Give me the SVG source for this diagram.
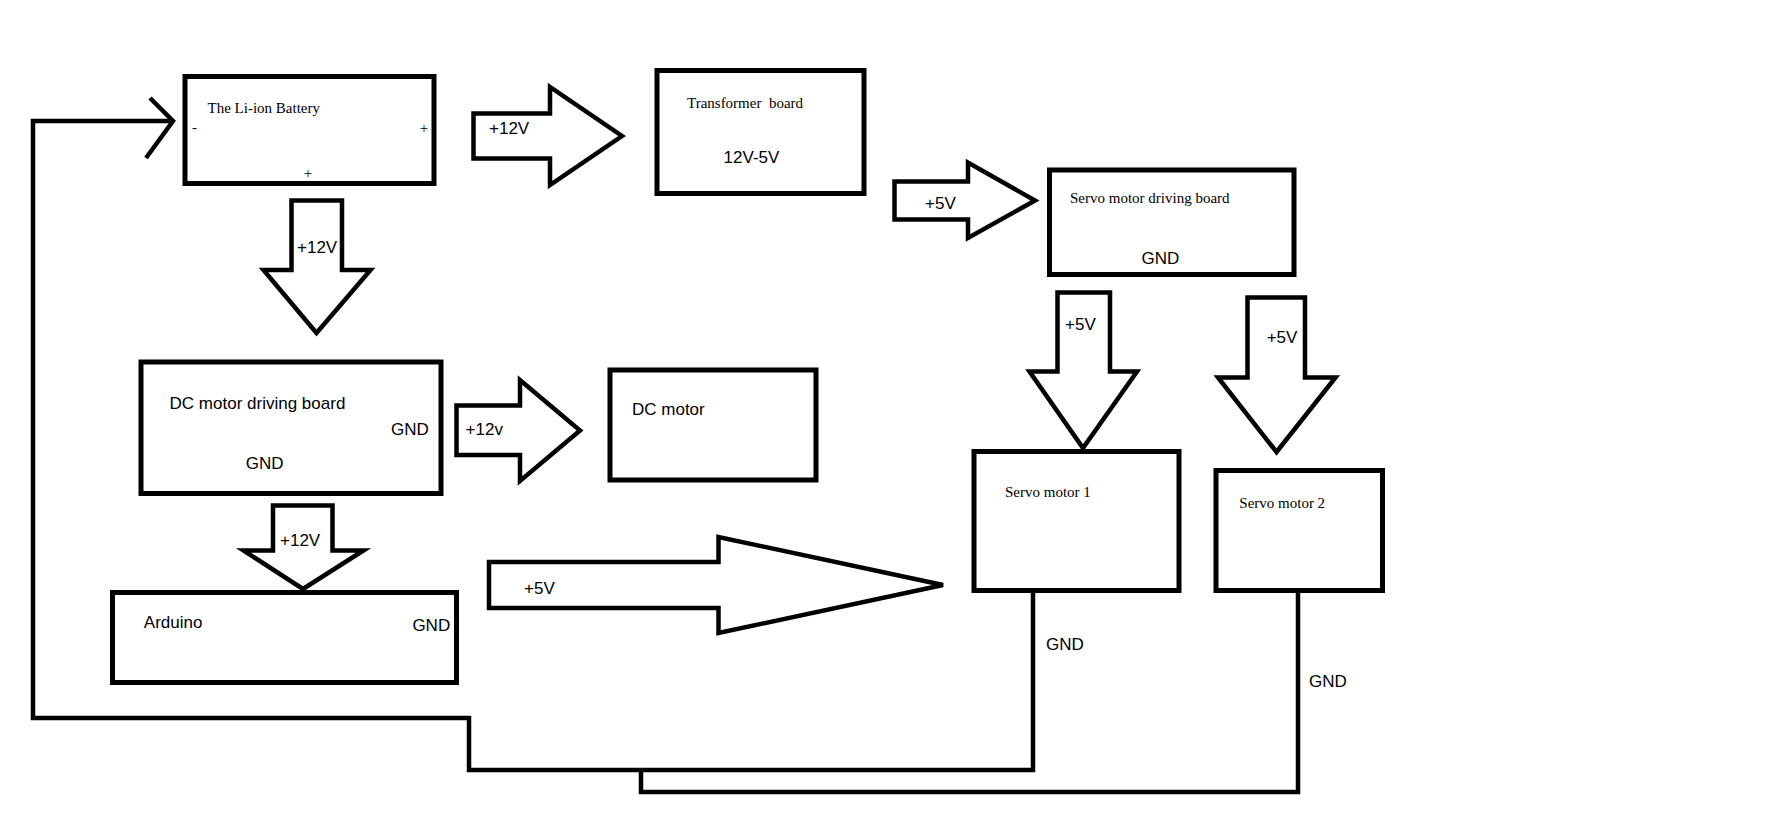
<svg xmlns="http://www.w3.org/2000/svg" width="1779" height="829" viewBox="0 0 1779 829">
<style>
.box{fill:none;stroke:#000;stroke-width:5}
.arr{fill:#fff;stroke:#000;stroke-width:4.5;stroke-linejoin:miter}
.wire{fill:none;stroke:#000;stroke-width:4.5;stroke-linejoin:miter}
.s{font-family:"Liberation Sans",Arial,sans-serif;font-size:17px;fill:#000}
.t{font-family:"Liberation Serif","Times New Roman",serif;font-size:15px;fill:#000}
</style>
<rect width="1779" height="829" fill="#fff"/>
<g id="connectors">
  <path class="wire" d="M1033,592 V770 H469 V718 H33 V121 H172"/>
  <path class="wire" d="M150,98 L173,121 L146,158"/>
  <path class="wire" d="M1298,592 V792 H641 V772"/>
  <g id="arrow-bat-trans"><polygon class="arr" points="473.5,113.5 550,113.5 550,87 622,136 550,185 550,158.5 473.5,158.5"/><text class="s" x="489" y="134">+12V</text></g>
  <g id="arrow-bat-dc"><polygon class="arr" points="291.5,200.5 342,200.5 342,270 370.5,270 316.5,333 263.5,270 291.5,270"/><text class="s" x="297" y="252.7">+12V</text></g>
  <g id="arrow-trans-servo"><polygon class="arr" points="894.5,181.5 968,181.5 968,162.5 1035,200.5 968,238 968,219.5 894.5,219.5"/><text class="s" x="925" y="209">+5V</text></g>
  <g id="arrow-dc-motor"><polygon class="arr" points="456.5,405.5 520,405.5 520,380 580,430.5 520,481 520,455 456.5,455"/><text class="s" x="465.6" y="435.3">+12v</text></g>
  <g id="arrow-dc-arduino"><polygon class="arr" points="273,505.5 332.5,505.5 332.5,550.5 363.5,550.5 303,589 243.5,550.5 273,550.5"/><text class="s" x="280" y="546">+12V</text></g>
  <g id="arrow-arduino-servo"><polygon class="arr" points="489,562 718.5,562 718.5,537 943,585 718.5,633 718.5,608 489,608"/><text class="s" x="524" y="594.3">+5V</text></g>
  <g id="arrow-servo1"><polygon class="arr" points="1057.5,292.5 1110,292.5 1110,371.5 1137,371.5 1083,448 1029.5,371.5 1057.5,371.5"/><text class="s" x="1065" y="330.3">+5V</text></g>
  <g id="arrow-servo2"><polygon class="arr" points="1247.5,297.5 1305,297.5 1305,377.5 1335.5,377.5 1276.5,452 1218,377.5 1247.5,377.5"/><text class="s" x="1266.7" y="342.7">+5V</text></g>
  <text class="s" x="1046" y="650.3">GND</text>
  <text class="s" x="1309" y="687">GND</text>
</g>
<g id="battery">
  <rect class="box" x="185" y="76.5" width="249" height="107"/>
  <text class="t" x="207.5" y="112.7">The Li-ion Battery</text>
  <text class="t" x="192" y="132">-</text>
  <text class="t" x="424" y="133" text-anchor="middle">+</text>
  <text class="t" x="308" y="177.5" text-anchor="middle">+</text>
</g>
<g id="transformer">
  <rect class="box" x="657" y="70.5" width="207" height="123"/>
  <text class="t" x="687" y="108.3" xml:space="preserve">Transformer  board</text>
  <text class="s" x="723.6" y="162.7">12V-5V</text>
</g>
<g id="servo-board">
  <rect class="box" x="1049.5" y="170" width="244.5" height="104.5"/>
  <text class="t" x="1070" y="203">Servo motor driving board</text>
  <text class="s" x="1141.5" y="263.5">GND</text>
</g>
<g id="dc-board">
  <rect class="box" x="141" y="362" width="300" height="131.5"/>
  <text class="s" x="169.6" y="409.3">DC motor driving board</text>
  <text class="s" x="391" y="435.3">GND</text>
  <text class="s" x="245.7" y="469.3">GND</text>
</g>
<g id="dc-motor">
  <rect class="box" x="610" y="370" width="206" height="110"/>
  <text class="s" x="632" y="415.3">DC motor</text>
</g>
<g id="arduino">
  <rect class="box" x="112.5" y="592.5" width="344" height="90"/>
  <text class="s" x="143.8" y="627.7">Arduino</text>
  <text class="s" x="412.4" y="631">GND</text>
</g>
<g id="servo1">
  <rect class="box" x="974" y="451.5" width="205" height="139"/>
  <text class="t" x="1005" y="496.7">Servo motor 1</text>
</g>
<g id="servo2">
  <rect class="box" x="1216" y="470.5" width="166.5" height="120"/>
  <text class="t" x="1239.3" y="507.7">Servo motor 2</text>
</g>
</svg>
